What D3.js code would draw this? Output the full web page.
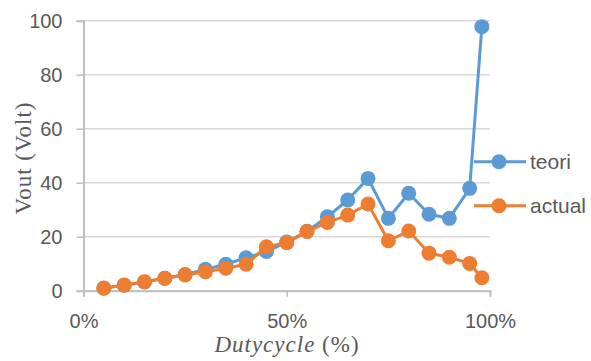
<!DOCTYPE html>
<html>
<head>
<meta charset="utf-8">
<script src="https://cdn.jsdelivr.net/npm/d3@7"></script>
<style>
	body { margin: 0; background: #fff; }
	svg { display: block; }
</style>
</head>
<body>
<svg id="chart" width="591" height="361"></svg>
<script>
// Duty cycle (fraction) and output voltage
const dutyCycle = [0.05, 0.10, 0.15, 0.20, 0.25, 0.30, 0.35, 0.40, 0.45, 0.50,
	0.55, 0.60, 0.65, 0.70, 0.75, 0.80, 0.85, 0.90, 0.95, 0.98]
const teori = [1, 2, 3.2, 4.6, 6, 7.9, 9.8, 12.2, 14.5, 18,
	22, 27.4, 33.6, 41.6, 26.8, 36.1, 28.3, 26.8, 37.9, 97.8]
const actual = [0.9, 2.1, 3.3, 4.6, 5.8, 7.0, 8.3, 9.8, 16.3, 17.8,
	21.9, 25.3, 28, 32.1, 18.5, 22.1, 13.9, 12.4, 10.1, 4.8]
const seriesNames = ['teori', 'actual']
const xTicks = [0, 0.5, 1]
const yTicks = [0, 20, 40, 60, 80, 100]

const colors = { teori: '#5B9BD5', actual: '#ED7D31' }
const textColor = '#595959'
const tickFont = '"Liberation Sans", Arial, sans-serif'
const titleFont = '"Liberation Serif", "Times New Roman", serif'

const svg = d3.select('#chart')

const x = d3.scaleLinear().domain([0, 1]).range([83.5, 490])
const y = d3.scaleLinear().domain([0, 100]).range([290.7, 20.7])

// Horizontal gridlines
svg.append('g')
	.selectAll('line')
	.data(yTicks)
	.enter()
	.append('line')
	.attr('x1', x(0))
	.attr('x2', x(1))
	.attr('y1', d => y(d))
	.attr('y2', d => y(d))
	.attr('stroke', '#D9D9D9')
	.attr('stroke-width', 1.5)

// Y axis
const yAxis = svg.append('g')
	.attr('transform', `translate(${x(0)},0)`)
	.call(d3.axisLeft(y).tickValues(yTicks).tickSize(7).tickPadding(14))
yAxis.select('.domain').attr('stroke', '#BFBFBF').attr('stroke-width', 2)
yAxis.selectAll('.tick line').attr('stroke', '#BFBFBF').attr('stroke-width', 1.5)
yAxis.selectAll('.tick text')
	.attr('fill', textColor)
	.style('font-family', tickFont)
	.style('font-size', '20px')

// X axis
const xAxis = svg.append('g')
	.attr('transform', `translate(0,${y(0)})`)
	.call(d3.axisBottom(x).tickValues(xTicks).tickFormat(d3.format('.0%')).tickSize(6).tickPadding(17))
xAxis.select('.domain').attr('stroke', '#BFBFBF').attr('stroke-width', 2)
xAxis.selectAll('.tick line').attr('stroke', '#BFBFBF').attr('stroke-width', 1.5)
xAxis.selectAll('.tick text')
	.attr('fill', textColor)
	.style('font-family', tickFont)
	.style('font-size', '20px')

// Axis titles
const xTitle = svg.append('text')
	.attr('x', 287)
	.attr('y', 351.7)
	.attr('text-anchor', 'middle')
	.attr('fill', textColor)
	.style('font-family', titleFont)
	.style('font-size', '23px')
	.style('letter-spacing', '1px')
xTitle.append('tspan').style('font-style', 'italic').text('Dutycycle')
xTitle.append('tspan').text(' (%)')

svg.append('text')
	.attr('transform', 'translate(31,158) rotate(-90)')
	.attr('text-anchor', 'middle')
	.attr('fill', textColor)
	.style('font-family', titleFont)
	.style('font-size', '23px')
	.style('letter-spacing', '1px')
	.text('Vout (Volt)')

// Series lines and markers
const line = d3.line()
	.x(d => x(d[0]))
	.y(d => y(d[1]))

const series = [
	{ name: 'teori', values: teori },
	{ name: 'actual', values: actual }
]

series.forEach(s => {
	const pts = dutyCycle.map((dc, i) => [dc, s.values[i]])
	const g = svg.append('g').attr('class', 'series-' + s.name)
	g.append('path')
		.datum(pts)
		.attr('d', line)
		.attr('fill', 'none')
		.attr('stroke', colors[s.name])
		.attr('stroke-width', 3)
		.attr('stroke-linejoin', 'round')
		.attr('stroke-linecap', 'round')
	g.selectAll('circle')
		.data(pts)
		.enter()
		.append('circle')
		.attr('cx', d => x(d[0]))
		.attr('cy', d => y(d[1]))
		.attr('r', 7.5)
		.attr('fill', colors[s.name])
})

// Legend
const legend = svg.append('g')
	.selectAll('g')
	.data(seriesNames)
	.enter()
	.append('g')
	.attr('transform', (d, i) => `translate(474,${161.7 + i * 44})`)

legend.append('line')
	.attr('x1', 0)
	.attr('x2', 52)
	.attr('stroke', d => colors[d])
	.attr('stroke-width', 3)
legend.append('circle')
	.attr('cx', 25)
	.attr('r', 7.5)
	.attr('fill', d => colors[d])
legend.append('text')
	.attr('x', 56)
	.attr('y', 7)
	.attr('fill', textColor)
	.style('font-family', tickFont)
	.style('font-size', '21px')
	.text(d => d)
</script>
</body>
</html>
